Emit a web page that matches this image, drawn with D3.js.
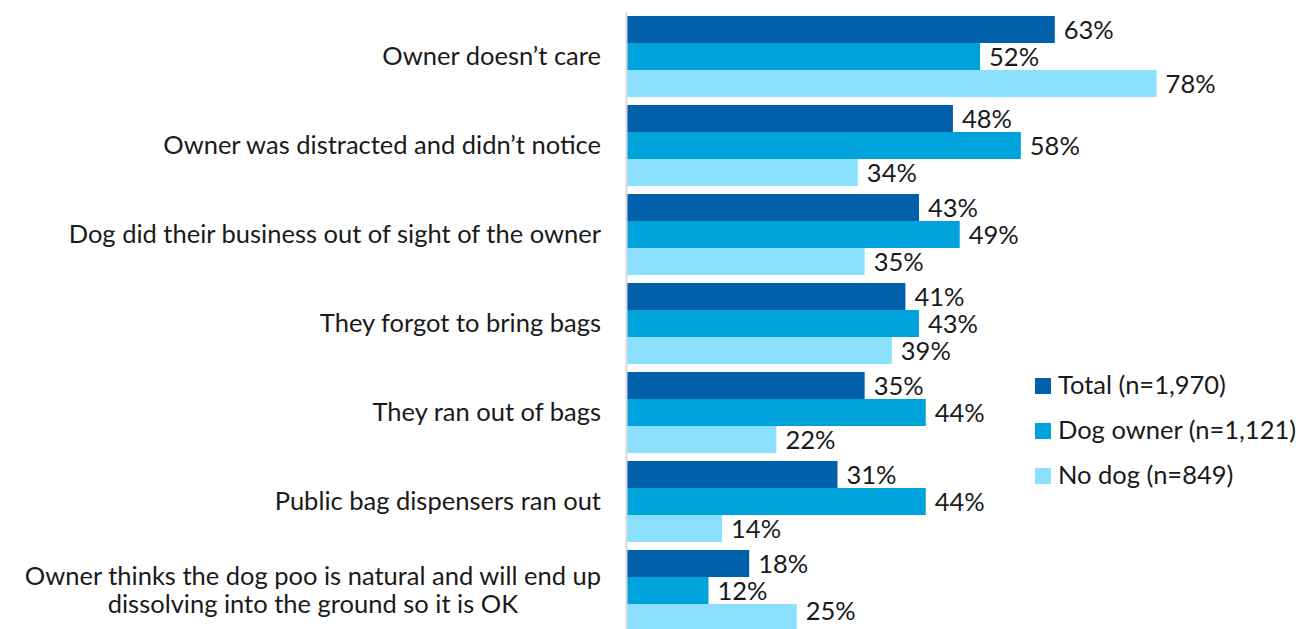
<!DOCTYPE html>
<html>
<head>
<meta charset="utf-8">
<script src="https://cdn.jsdelivr.net/npm/d3@7"></script>
<style>
  html, body { margin: 0; padding: 0; background: #fff; }
  svg text { font-family: Lato, "Open Sans", sans-serif; fill: #1a1a1a; }
</style>
</head>
<body>
<svg id="chart" width="1296" height="629"></svg>
<script>
// Reasons for not picking up after a dog, by respondent group (%)
const categories = [
  "Owner doesn\u2019t care",
  "Owner was distracted and didn\u2019t notice",
  "Dog did their business out of sight of the owner",
  "They forgot to bring bags",
  "They ran out of bags",
  "Public bag dispensers ran out",
  "Owner thinks the dog poo is natural and will end up|dissolving into the ground so it is OK"
];
const seriesNames = ["Total (n=1,970)", "Dog owner (n=1,121)", "No dog (n=849)"];
const totalValues    = [63, 48, 43, 41, 35, 31, 18];
const dogOwnerValues = [52, 58, 49, 43, 44, 44, 12];
const noDogValues    = [78, 34, 35, 39, 22, 14, 25];
const colors = ["#0061AA", "#00A2DC", "#8CE0FF"];

const series = [totalValues, dogOwnerValues, noDogValues];
const rows = categories.map((c, i) => ({
  cat: c,
  values: series.map((s, k) => ({ key: seriesNames[k], value: s[i], k }))
}));

const FS = "25.5px";
const W = 1296, H = 629;
const svg = d3.select("#chart");
const x0 = 627;
const x = d3.scaleLinear().domain([0, 100]).range([x0, x0 + 679]);

const y = d3.scaleBand()
  .domain(categories)
  .range([12, 12 + 7 * 89])
  .paddingInner(0.09)
  .paddingOuter(0.045);

const ySub = d3.scaleBand()
  .domain([0, 1, 2])
  .range([0, y.bandwidth()]);

const groups = svg.append("g").selectAll("g")
  .data(rows)
  .join("g")
  .attr("transform", d => `translate(0,${y(d.cat)})`);

groups.selectAll("rect")
  .data(d => d.values)
  .join("rect")
  .attr("x", x(0))
  .attr("y", d => ySub(d.k))
  .attr("width", d => x(d.value) - x(0))
  .attr("height", ySub.bandwidth())
  .attr("fill", d => colors[d.k]);

// Value labels; keep the lowest one inside the drawing area
groups.selectAll("text.val")
  .data(d => d.values.map(v => ({ ...v, gy: y(d.cat) })))
  .join("text")
  .attr("class", "val")
  .attr("x", d => x(d.value) + 9)
  .attr("y", d => Math.min(ySub(d.k) + ySub.bandwidth() / 2 + 3, H - 15 - d.gy))
  .attr("dominant-baseline", "middle")
  .style("font-size", FS)
  .text(d => d.value + "%");

// Vertical category axis line
svg.append("line")
  .attr("x1", x0 - 0.5).attr("x2", x0 - 0.5)
  .attr("y1", 12).attr("y2", H)
  .attr("stroke", "#d9d9d9").attr("stroke-width", 2);

// Category labels (right-aligned block, lines centred within it)
const labelRight = 601;
rows.forEach(r => {
  const lines = r.cat.split("|");
  const cy = y(r.cat) + y.bandwidth() / 2 + 2;
  const lh = 28;
  const g = svg.append("g");
  const texts = lines.map((ln, i) =>
    g.append("text")
      .attr("y", cy + (i - (lines.length - 1) / 2) * lh)
      .attr("dominant-baseline", "middle")
      .attr("text-anchor", "middle")
      .style("font-size", FS)
      .text(ln)
  );
  const maxW = d3.max(texts, t => t.node().getComputedTextLength());
  texts.forEach(t => t.attr("x", labelRight - maxW / 2));
});

// Legend
const legend = svg.append("g").attr("transform", "translate(1035,386)");
seriesNames.forEach((name, k) => {
  const row = legend.append("g").attr("transform", `translate(0,${k * 45})`);
  row.append("rect").attr("x", 0).attr("y", -8).attr("width", 16).attr("height", 16)
    .attr("fill", colors[k]);
  row.append("text").attr("x", 23).attr("y", 2)
    .attr("dominant-baseline", "middle")
    .style("font-size", FS)
    .text(name);
});
</script>
</body>
</html>
